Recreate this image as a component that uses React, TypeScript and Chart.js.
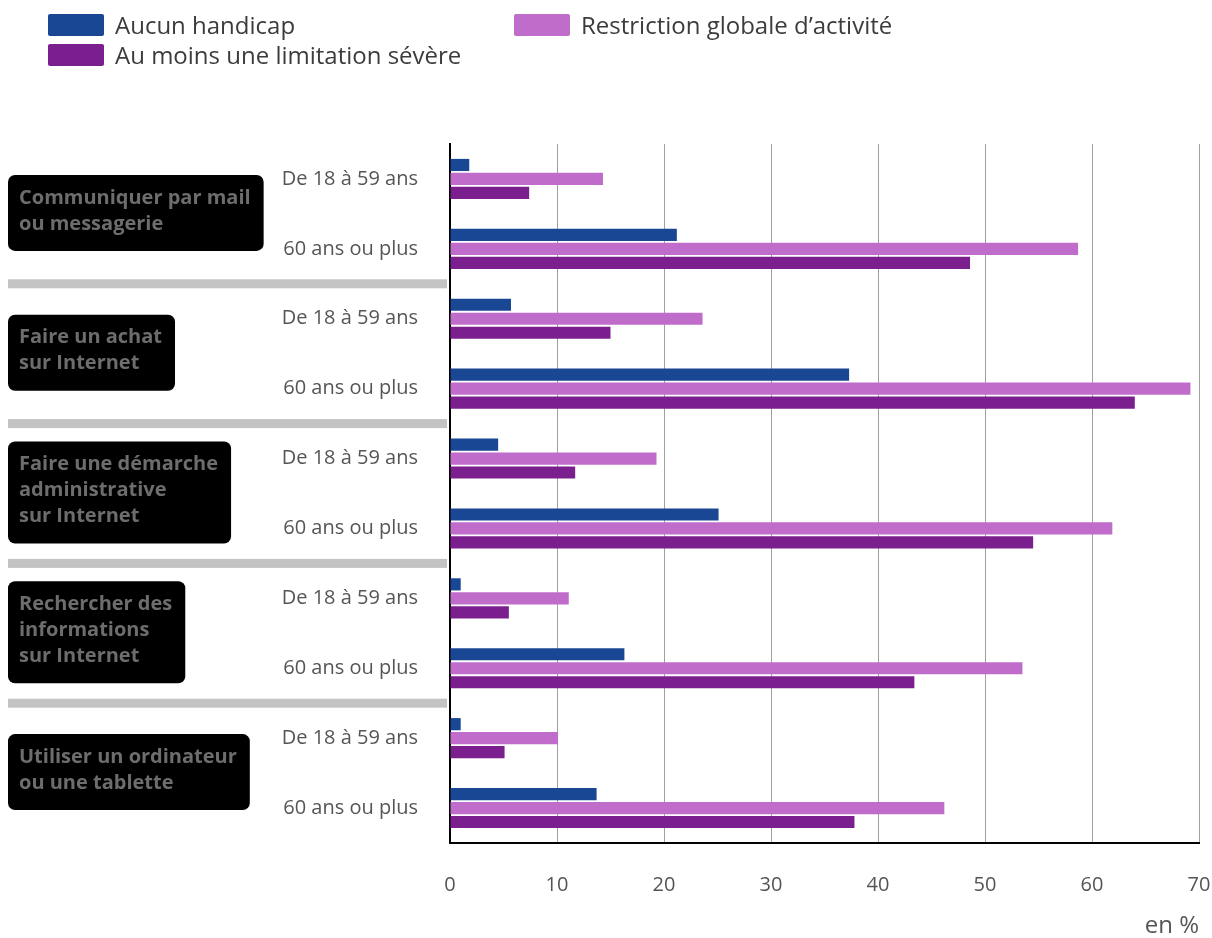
import { useEffect, useRef } from 'react';
import { Chart, registerables } from 'chart.js';

Chart.register(...registerables);

// Age groups, repeated for each activity (one bar group per row)
const rowLabels = [
  'De 18 à 59 ans', '60 ans ou plus',
  'De 18 à 59 ans', '60 ans ou plus',
  'De 18 à 59 ans', '60 ans ou plus',
  'De 18 à 59 ans', '60 ans ou plus',
  'De 18 à 59 ans', '60 ans ou plus',
];

// Activity names, shown in the dark boxes on the left (one per pair of rows)
const activities = [
  ['Communiquer par mail', 'ou messagerie'],
  ['Faire un achat', 'sur Internet'],
  ['Faire une démarche', 'administrative', 'sur Internet'],
  ['Rechercher des', 'informations', 'sur Internet'],
  ['Utiliser un ordinateur', 'ou une tablette'],
];

const seriesNames = [
  'Aucun handicap',
  'Restriction globale d\u2019activité',
  'Au moins une limitation sévère',
];

// Shares in %
const aucunHandicap = [1.8, 21.2, 5.7, 37.3, 4.5, 25.1, 1.0, 16.3, 1.0, 13.7];
const restrictionGlobale = [14.3, 58.7, 23.6, 69.2, 19.3, 61.9, 11.1, 53.5, 10.1, 46.2];
const limitationSevere = [7.4, 48.6, 15.0, 64.0, 11.7, 54.5, 5.5, 43.4, 5.1, 37.8];

const xMin = 0;
const xMax = 70;
const xStep = 10;
const unitLabel = 'en %';

const COLORS = ['#1a4794', '#c06ccb', '#7b1f8e'];
const FONT = '"Open Sans", "DejaVu Sans", sans-serif';

function roundRect(ctx: CanvasRenderingContext2D, x: number, y: number, w: number, h: number, r: number) {
  ctx.beginPath();
  ctx.moveTo(x + r, y);
  ctx.lineTo(x + w - r, y);
  ctx.arcTo(x + w, y, x + w, y + r, r);
  ctx.lineTo(x + w, y + h - r);
  ctx.arcTo(x + w, y + h, x + w - r, y + h, r);
  ctx.lineTo(x + r, y + h);
  ctx.arcTo(x, y + h, x, y + h - r, r);
  ctx.lineTo(x, y + r);
  ctx.arcTo(x, y, x + r, y, r);
  ctx.closePath();
}

// Legend, group separators and activity boxes
const decorations = {
  id: 'decorations',
  afterDraw(chart: any) {
    const ctx: CanvasRenderingContext2D = chart.ctx;
    const yScale = chart.scales.y;
    ctx.save();

    // legend
    const legendPos = [
      { x: 48, y: 14 },
      { x: 514, y: 14 },
      { x: 48, y: 44 },
    ];
    chart.data.datasets.forEach((ds: any, i: number) => {
      const p = legendPos[i];
      ctx.fillStyle = ds.backgroundColor;
      roundRect(ctx, p.x, p.y, 56, 22, 2);
      ctx.fill();
      ctx.fillStyle = '#3c3c3c';
      ctx.font = `24px ${FONT}`;
      ctx.textAlign = 'left';
      ctx.textBaseline = 'middle';
      ctx.fillText(ds.label, p.x + 67, p.y + 13);
    });

    // separators between activities
    ctx.fillStyle = '#c3c3c3';
    for (let g = 1; g < activities.length; g++) {
      const yb = (yScale.getPixelForValue(2 * g - 1) + yScale.getPixelForValue(2 * g)) / 2;
      ctx.fillRect(8, yb - 4.5, 439, 9);
    }

    // activity boxes
    ctx.font = `bold 20px ${FONT}`;
    activities.forEach((lines, g) => {
      const yc = (yScale.getPixelForValue(2 * g) + yScale.getPixelForValue(2 * g + 1)) / 2;
      const tw = Math.max(...lines.map((l) => ctx.measureText(l).width));
      const h = lines.length * 26 + 24;
      const top = yc - h / 2 - 1;
      ctx.fillStyle = '#000000';
      roundRect(ctx, 8, top, tw + 24, h, 7);
      ctx.fill();
      ctx.fillStyle = '#6d6d6d';
      ctx.textAlign = 'left';
      ctx.textBaseline = 'middle';
      lines.forEach((l, i) => {
        ctx.fillText(l, 19, top + 23 + i * 26);
      });
    });

    ctx.restore();
  },
};

export default function App() {
  const canvasRef = useRef<HTMLCanvasElement | null>(null);

  useEffect(() => {
    if (!canvasRef.current) return;
    Chart.defaults.font.family = FONT;
    const chart = new Chart(canvasRef.current, {
      type: 'bar',
      data: {
        labels: rowLabels,
        datasets: [
          { label: seriesNames[0], data: aucunHandicap, backgroundColor: COLORS[0] },
          { label: seriesNames[1], data: restrictionGlobale, backgroundColor: COLORS[1] },
          { label: seriesNames[2], data: limitationSevere, backgroundColor: COLORS[2] },
        ],
      },
      options: {
        indexAxis: 'y',
        responsive: false,
        animation: false,
        layout: { padding: { top: 144, right: 13, bottom: 0, left: 0 } },
        datasets: {
          bar: { categoryPercentage: 0.6, barPercentage: 0.87 },
        },
        plugins: {
          legend: { display: false },
          tooltip: { enabled: false },
        },
        scales: {
          x: {
            min: xMin,
            max: xMax,
            ticks: {
              stepSize: xStep,
              padding: 30,
              color: '#555555',
              font: { size: 20 },
            },
            grid: { color: '#a0a0a0', lineWidth: 1, drawTicks: false },
            border: { display: true, color: '#000000', width: 2 },
            title: {
              display: true,
              text: unitLabel,
              align: 'end',
              color: '#555555',
              font: { size: 24, lineHeight: 1 },
              padding: { top: 0, bottom: 0 },
            },
            afterFit(scale: any) {
              scale.height = 95;
              scale.paddingLeft = 0;
              scale.paddingRight = 0;
            },
          },
          y: {
            ticks: {
              padding: 32,
              color: '#555555',
              font: { size: 20 },
            },
            grid: { display: false, drawTicks: false },
            border: { display: true, color: '#000000', width: 2 },
            afterFit(scale: any) {
              scale.width = 450;
              scale.paddingTop = 0;
              scale.paddingBottom = 0;
            },
          },
        },
      },
      plugins: [decorations],
    });
    return () => chart.destroy();
  }, []);

  return (
    <div style={{ position: 'absolute', left: 0, top: 0, width: 1212, height: 938, background: '#ffffff' }}>
      <canvas ref={canvasRef} width={1212} height={938} style={{ display: 'block' }} />
    </div>
  );
}
